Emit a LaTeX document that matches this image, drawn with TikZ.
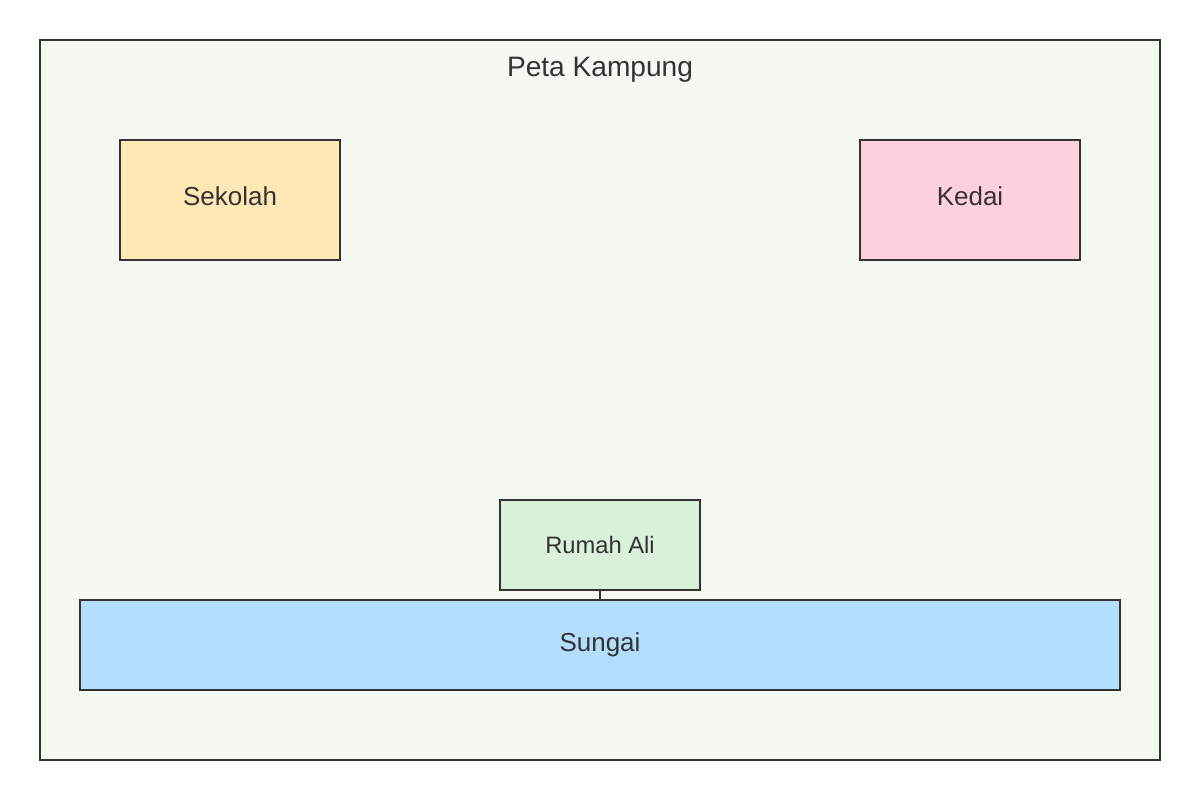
\documentclass[tikz,border=0pt]{standalone}
\usepackage{fontspec}
\setmainfont{Liberation Sans}
\definecolor{mapbg}{HTML}{F3F8F1}
\definecolor{schoolc}{HTML}{FFE8B5}
\definecolor{shopc}{HTML}{FFD1DC}
\definecolor{housec}{HTML}{D9F0DA}
\definecolor{riverc}{HTML}{B3DFFD}
\definecolor{edgec}{HTML}{333333}
\tikzset{
  place/.style={draw=edgec, line width=0.8pt, text=edgec, font=\fontsize{14.8pt}{17pt}\selectfont}
}
\begin{document}
\begin{tikzpicture}[x=0.02cm, y=-0.02cm]
\useasboundingbox (0,0) rectangle (1200,800);

\draw[place, fill=mapbg] (40,40) rectangle (1160,760);
\node[text=edgec, font=\fontsize{16pt}{19pt}\selectfont] (title) at (600,70) {Peta Kampung};

\draw[place, fill=schoolc] (120,140) rectangle (340,260);
\node[place, draw=none] (sekolah) at (230,196) {Sekolah};

\draw[place, fill=shopc] (860,140) rectangle (1080,260);
\node[place, draw=none] (kedai) at (970,196) {Kedai};

\node[place, fill=housec, minimum width=200*0.02cm, minimum height=90*0.02cm, font=\fontsize{13.5pt}{16pt}\selectfont] (rumah) at (600,545) {Rumah Ali};
\node[place, fill=riverc, minimum width=1040*0.02cm, minimum height=90*0.02cm] (sungai) at (600,645) {Sungai};

\draw[edgec, line width=0.8pt] (rumah.south) -- (sungai.north);

\end{tikzpicture}
\end{document}
